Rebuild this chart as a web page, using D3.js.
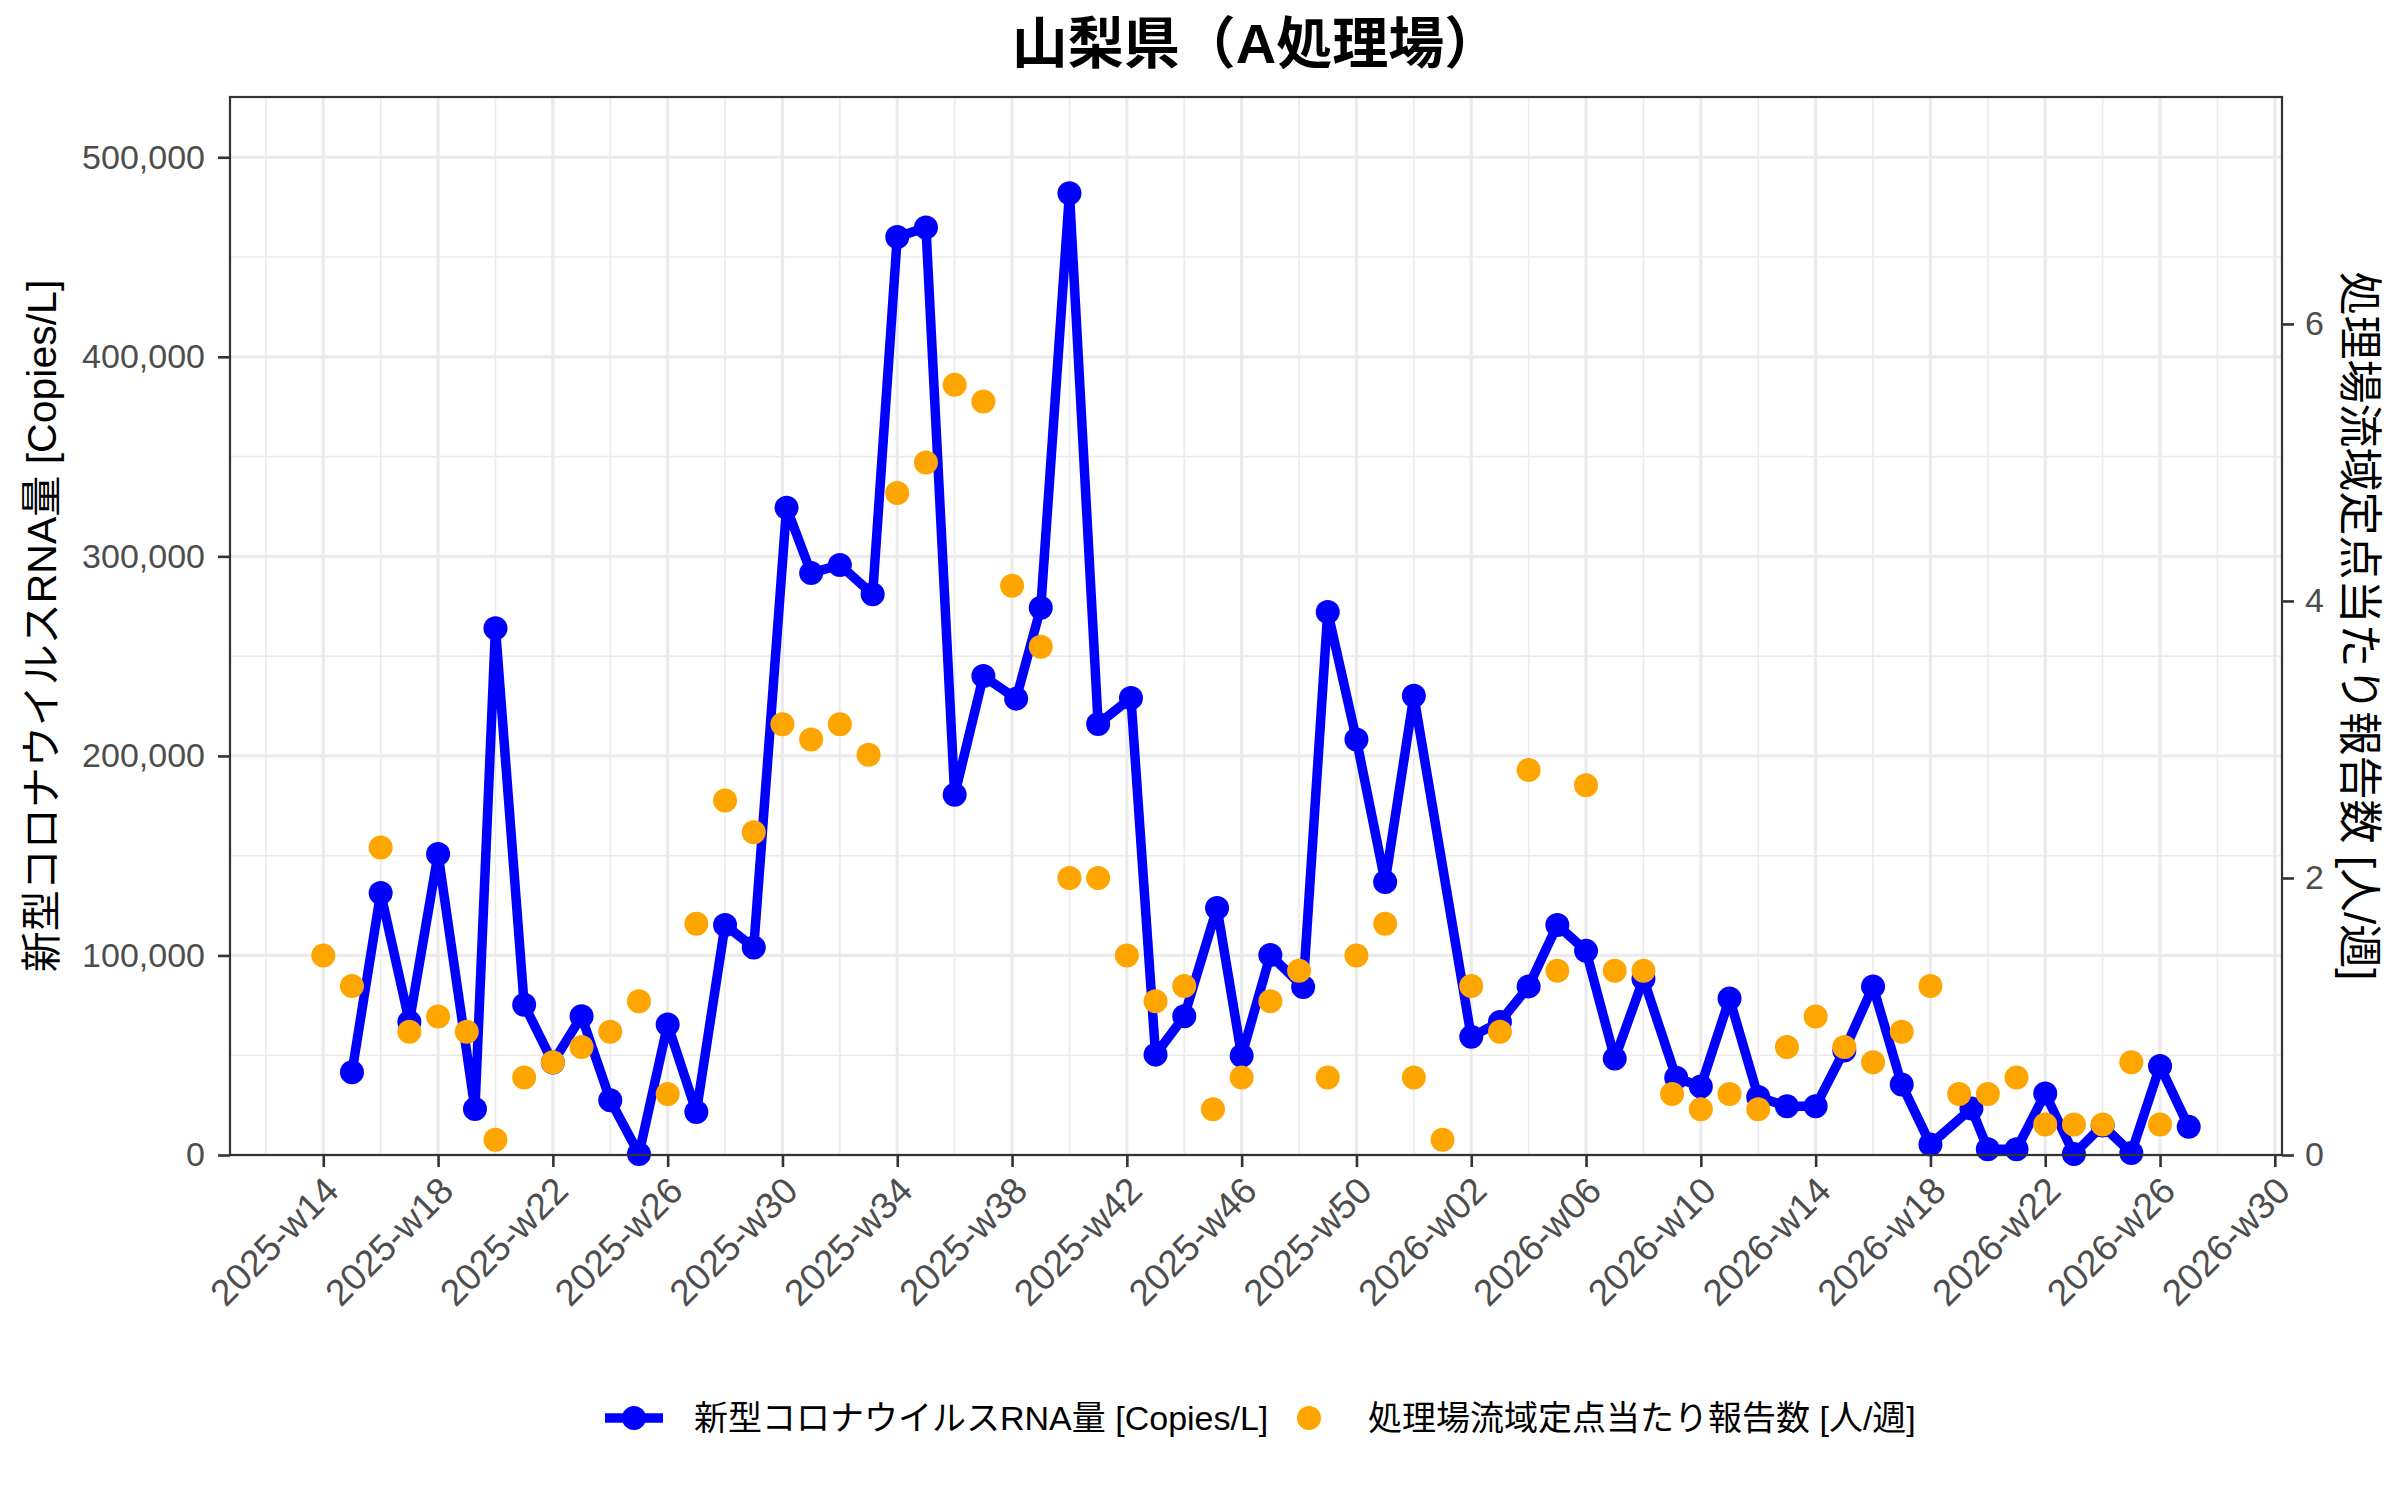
<!DOCTYPE html>
<html>
<head>
<meta charset="utf-8">
<script src="https://cdn.jsdelivr.net/npm/d3@7"></script>
<style>
body { margin: 0; background: #fff; }
svg text { font-family: "Liberation Sans", Arial, "Noto Sans CJK JP", sans-serif; }
</style>
</head>
<body>
<svg id="chart" width="2400" height="1500"></svg>
<script>
var title = '山梨県（A処理場）';
var leftTitle = '新型コロナウイルスRNA量 [Copies/L]';
var rightTitle = '処理場流域定点当たり報告数 [人/週]';

// sampling dates of the RNA measurements
var rnaDates = ['2025-04-07','2025-04-14','2025-04-21','2025-04-28','2025-05-07','2025-05-12','2025-05-19','2025-05-26',
  '2025-06-02','2025-06-09','2025-06-16','2025-06-23','2025-06-30','2025-07-07','2025-07-14','2025-07-22','2025-07-28',
  '2025-08-04','2025-08-12','2025-08-18','2025-08-25','2025-09-01','2025-09-08','2025-09-16','2025-09-22','2025-09-29',
  '2025-10-06','2025-10-14','2025-10-20','2025-10-27','2025-11-04','2025-11-10','2025-11-17','2025-11-25','2025-12-01',
  '2025-12-08','2025-12-15','2025-12-22','2026-01-05','2026-01-12','2026-01-19','2026-01-26','2026-02-02','2026-02-09',
  '2026-02-16','2026-02-24','2026-03-02','2026-03-09','2026-03-16','2026-03-23','2026-03-30','2026-04-06','2026-04-13',
  '2026-04-20','2026-04-27','2026-05-07','2026-05-11','2026-05-18','2026-05-25','2026-06-01','2026-06-08','2026-06-15',
  '2026-06-22','2026-06-29'];
var rnaValues = [41500,131300,66700,150800,23000,264000,75300,46300,
  69500,27400,500,65400,21600,115300,104000,324400,291600,
  295700,281000,460000,464800,180500,240000,228700,274200,482000,
  216000,229000,50300,69500,123800,49700,100200,84200,272100,
  208200,136800,230100,59200,66700,84500,115300,102300,48300,
  88300,38700,34300,78400,29100,24400,24400,52400,84500,
  35300,5300,23300,2900,2900,30800,500,14800,1000,
  44600,14100];

// weekly reports per sentinel site, one per ISO week from 2025-w14
var reportStart = '2025-03-31';
var reportValues = [1.44,1.22,2.22,0.89,1.00,0.89,0.11,0.56,0.67,0.78,0.89,1.11,0.44,1.67,2.56,2.33,
  3.11,3.00,3.11,2.89,4.78,5.00,5.56,5.44,4.11,3.67,2.00,2.00,1.44,1.11,1.22,0.33,
  0.56,1.11,1.33,0.56,1.44,1.67,0.56,0.11,1.22,0.89,2.78,1.33,2.67,1.33,1.33,0.44,
  0.33,0.44,0.33,0.78,1.00,0.78,0.67,0.89,1.22,0.44,0.44,0.56,0.22,0.22,0.22,0.67,0.22];

var xTickDates = ['2025-03-31','2025-04-28','2025-05-26','2025-06-23','2025-07-21','2025-08-18','2025-09-15',
  '2025-10-13','2025-11-10','2025-12-08','2026-01-05','2026-02-02','2026-03-02','2026-03-30','2026-04-27',
  '2026-05-25','2026-06-22','2026-07-20'];
var yTicks = [0,100000,200000,300000,400000,500000];
var yRightTicks = [0,2,4,6];
var secScale = 69413;
var legendLabels = ['新型コロナウイルスRNA量 [Copies/L]','処理場流域定点当たり報告数 [人/週]'];

var parse = d3.utcParse('%Y-%m-%d');
var rna = rnaDates.map(function(d,i) { return {date: parse(d), val: rnaValues[i]}; });
var reports = reportValues.map(function(v,i) { return {date: d3.utcMonday.offset(parse(reportStart), i), val: v}; });
var ticks = xTickDates.map(parse);
var minorTicks = ticks.map(function(d) { return d3.utcDay.offset(d, -14); }).concat([d3.utcDay.offset(ticks[ticks.length-1], 14)]);

var svg = d3.select('#chart'),
  margin = {top: 97, right: 118, bottom: 345, left: 230},
  width = 2400 - margin.left - margin.right,
  height = 1500 - margin.top - margin.bottom,
  g = svg.append('g').attr('transform', 'translate(' + margin.left + ',' + margin.top + ')');

var ext = d3.extent(rna.concat(reports), function(d) { return d.date; });
var pad = (ext[1] - ext[0]) * 0.05;
var x = d3.scaleUtc()
  .domain([new Date(+ext[0] - pad), new Date(+ext[1] + pad)])
  .range([0, width]);
var y = d3.scaleLinear().domain([0, 530200]).range([height, 0]);
var yR = d3.scaleLinear().domain([0, 530200 / secScale]).range([height, 0]);

// grid
var grid = g.append('g');
grid.selectAll('.ymin').data(d3.range(50000, 530000, 100000)).enter().append('line')
  .attr('x1', 0).attr('x2', width).attr('y1', y).attr('y2', y)
  .attr('stroke', '#ebebeb').attr('stroke-width', 1.6);
grid.selectAll('.xmin').data(minorTicks.filter(function(d) { return x(d) > 0 && x(d) < width; })).enter().append('line')
  .attr('x1', x).attr('x2', x).attr('y1', 0).attr('y2', height)
  .attr('stroke', '#ebebeb').attr('stroke-width', 1.6);
grid.selectAll('.ymaj').data(yTicks).enter().append('line')
  .attr('x1', 0).attr('x2', width).attr('y1', y).attr('y2', y)
  .attr('stroke', '#ebebeb').attr('stroke-width', 3.2);
grid.selectAll('.xmaj').data(ticks).enter().append('line')
  .attr('x1', x).attr('x2', x).attr('y1', 0).attr('y2', height)
  .attr('stroke', '#ebebeb').attr('stroke-width', 3.2);

// axes
var fmtWeek = d3.utcFormat('%G-w%V');
var xAxis = g.append('g')
  .attr('transform', 'translate(0,' + height + ')')
  .call(d3.axisBottom(x).tickValues(ticks).tickSize(12).tickSizeOuter(0).tickFormat(fmtWeek));

var yAxis = g.append('g')
  .call(d3.axisLeft(y).tickValues(yTicks).tickSize(12).tickSizeOuter(0).tickFormat(d3.format(',')));
var yAxisR = g.append('g')
  .attr('transform', 'translate(' + width + ',0)')
  .call(d3.axisRight(yR).tickValues(yRightTicks).tickSize(12).tickSizeOuter(0));

[xAxis, yAxis, yAxisR].forEach(function(a) {
  a.select('.domain').remove();
  a.selectAll('line').attr('stroke', '#333').attr('stroke-width', 2.6);
  a.selectAll('text').attr('fill', '#4d4d4d').style('font-size', '34px');
});
xAxis.selectAll('text')
  .style('font-size', '37px')
  .attr('text-anchor', 'end')
  .attr('transform', 'translate(17,38) rotate(-45)')
  .attr('dy', 0).attr('y', 0).attr('x', 0);
yAxis.selectAll('text').attr('x', -25);
yAxisR.selectAll('text').attr('x', 23);

// RNA line and points
var line = d3.line()
  .x(function(d) { return x(d.date); })
  .y(function(d) { return y(d.val); });
g.append('path')
  .datum(rna)
  .attr('d', line)
  .style('fill', 'none')
  .attr('stroke', '#0000ff')
  .attr('stroke-width', 9.5)
  .attr('stroke-linejoin', 'round');
g.selectAll('.rna').data(rna).enter().append('circle')
  .attr('cx', function(d) { return x(d.date); })
  .attr('cy', function(d) { return y(d.val); })
  .attr('r', 12)
  .attr('fill', '#0000ff');

g.selectAll('.rep').data(reports).enter().append('circle')
  .attr('cx', function(d) { return x(d.date); })
  .attr('cy', function(d) { return yR(d.val); })
  .attr('r', 12)
  .attr('fill', '#ffa500');

// panel border
g.append('rect')
  .attr('width', width).attr('height', height)
  .attr('fill', 'none').attr('stroke', '#333').attr('stroke-width', 2.2);

// titles
svg.append('text')
  .attr('x', margin.left + width / 2).attr('y', 63)
  .attr('text-anchor', 'middle')
  .style('font-size', '56px').style('font-weight', 'bold')
  .text(title);
svg.append('text')
  .attr('transform', 'translate(42,' + (margin.top + height / 2) + ') rotate(-90)')
  .attr('text-anchor', 'middle').attr('dy', '0.35em')
  .style('font-size', '41px')
  .text(leftTitle);
svg.append('text')
  .attr('transform', 'translate(2359,' + (margin.top + height / 2) + ') rotate(90)')
  .attr('text-anchor', 'middle').attr('dy', '0.35em')
  .style('font-size', '44px')
  .text(rightTitle);

// legend
var leg = svg.append('g').attr('transform', 'translate(605,1418)');
leg.append('line').attr('x1', 0).attr('x2', 58).attr('y1', 0).attr('y2', 0)
  .attr('stroke', '#0000ff').attr('stroke-width', 9.5);
leg.append('circle').attr('cx', 29).attr('cy', 0).attr('r', 12).attr('fill', '#0000ff');
leg.append('text').attr('x', 89).attr('dy', '0.35em').style('font-size', '34px').text(legendLabels[0]);
leg.append('circle').attr('cx', 704).attr('cy', 0).attr('r', 12).attr('fill', '#ffa500');
leg.append('text').attr('x', 763).attr('dy', '0.35em').style('font-size', '34px').text(legendLabels[1]);
</script>
</body>
</html>
